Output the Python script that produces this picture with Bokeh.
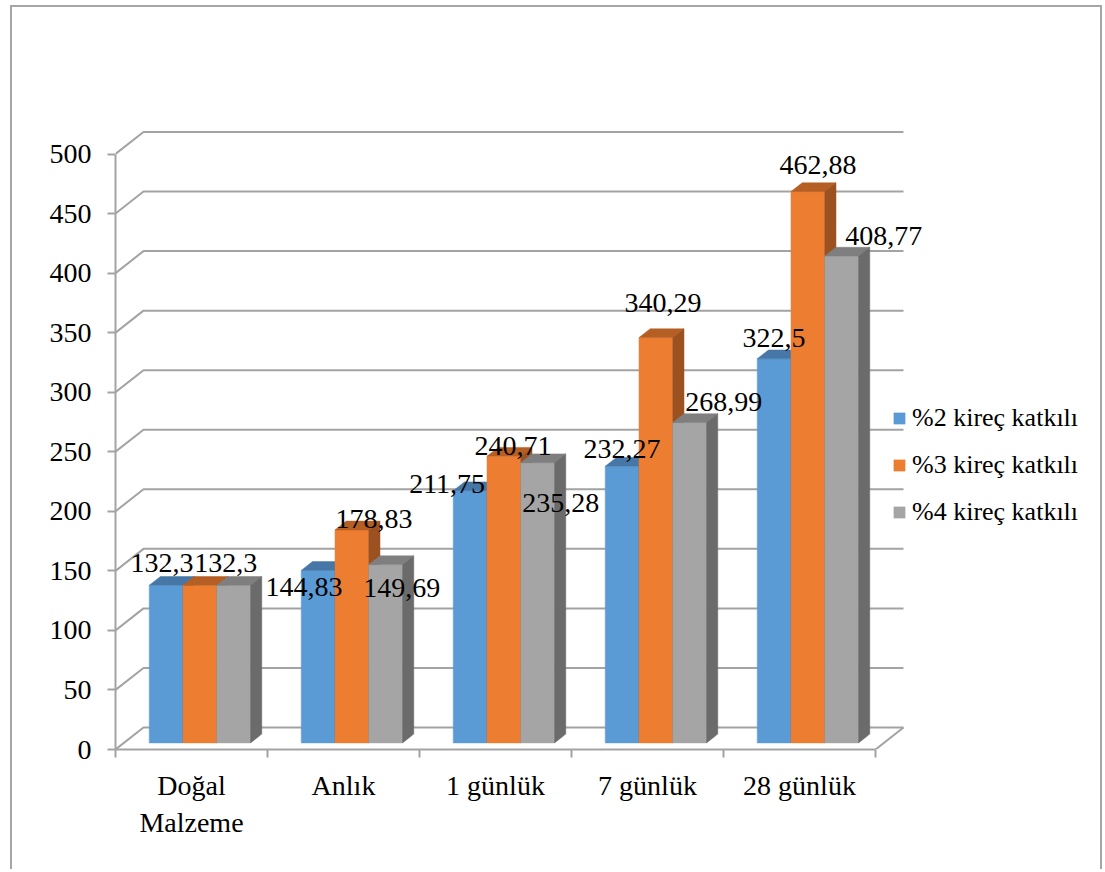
from bokeh.plotting import figure
from bokeh.models import Range1d, LinearAxis, FixedTicker, Legend, LegendItem, ColumnDataSource
from bokeh.core.properties import value
from bokeh.embed import file_html
from bokeh.resources import INLINE

# ---- data -------------------------------------------------------------
categories = ["Doğal\nMalzeme", "Anlık", "1 günlük", "7 günlük", "28 günlük"]
series_names = ["%2 kireç katkılı", "%3 kireç katkılı", "%4 kireç katkılı"]
lime_2 = [132.3, 144.83, 211.75, 232.27, 322.5]
lime_3 = [132.3, 178.83, 240.71, 340.29, 462.88]
lime_4 = [132.3, 149.69, 235.28, 268.99, 408.77]
value_ticks = [0, 50, 100, 150, 200, 250, 300, 350, 400, 450, 500]

# ---- styling / layout ---------------------------------------------------
front_colors = ["#5b9bd5", "#ed7d31", "#a5a5a5"]
top_colors = ["#4677a6", "#b55f24", "#7f7f7f"]
side_colors = ["#3f6a94", "#9c5120", "#6b6b6b"]
GRID_COLOR = "#a3a3a3"
FONT = "Liberation Serif"

# label nudges in screen pixels (dx right, dy down) from the bar's top-front centre;
# None = label hidden behind its neighbours
label_nudge = [
    [(-4, -22), None, (-8, -22)],
    [(-14, 17), (22, -11), (16, 23)],
    [(-23, -7), (9, -10), (23, 40)],
    [(0, -17), (7, -35), (34, -21)],
    [(0, -21), (10, -27), (42, -20)],
]

W, H = 1092, 864
OX, OY = 12, 7              # canvas origin on the page
AXIS_X, AXIS_Y = 115, 749   # page position of the value axis / category axis
CAT_PX = 152.0              # pixels per category
VAL_PX = 1.191              # pixels per value unit
DEPTH_PX = (28.0, 22.0)     # oblique depth of the floor / back wall
BAR_FRONT, BAR_BACK = 0.3, 0.7
GAP = 1.5                   # gap between groups, in bar widths

mb_left = AXIS_X - OX
mb_bottom = OY + H - AXIS_Y
mb_top = 5
mb_right = 6
frame_w = W - mb_left - mb_right
frame_h = H - mb_top - mb_bottom

p = figure(width=W, height=H, output_backend="svg", toolbar_location=None,
           x_range=Range1d(0, frame_w / CAT_PX), y_range=Range1d(0, frame_h / VAL_PX),
           x_axis_type=None, y_axis_type=None,
           min_border_left=mb_left, min_border_right=mb_right,
           min_border_top=mb_top, min_border_bottom=mb_bottom,
           outline_line_color=None, background_fill_color="white",
           border_fill_color="white", margin=(5, 0, 0, 10),
           styles={"border-top": "2px solid #a6a6a6",
                   "border-left": "2px solid #a6a6a6",
                   "border-right": "2px solid #a6a6a6"})
p.xgrid.visible = False
p.ygrid.visible = False

# depth vector in data units
dX = DEPTH_PX[0] / CAT_PX
dY = DEPTH_PX[1] / VAL_PX
n_cat = len(categories)

# ---- back wall gridlines and floor --------------------------------------
gx, gy = [], []
for v in value_ticks:
    gx.append([0, dX, n_cat + dX])
    gy.append([v, v + dY, v + dY])
gx.append([n_cat, n_cat + dX])
gy.append([0, dY])
p.multi_line(gx, gy, line_color=GRID_COLOR, line_width=2)

# ---- axes ---------------------------------------------------------------
yaxis = LinearAxis(ticker=FixedTicker(ticks=value_ticks), bounds=(0, 500),
                   axis_line_color=GRID_COLOR, axis_line_width=2,
                   major_tick_line_color=GRID_COLOR, major_tick_line_width=2,
                   major_tick_out=8, major_tick_in=0,
                   minor_tick_line_color=None,
                   major_label_text_font=FONT, major_label_text_font_size="28px",
                   major_label_text_color="black", major_label_standoff=16)
p.add_layout(yaxis, "left")

centers = [i + 0.5 for i in range(n_cat)]
xaxis = LinearAxis(ticker=FixedTicker(ticks=centers, minor_ticks=list(range(n_cat + 1))),
                   bounds=(0, n_cat),
                   axis_line_color=GRID_COLOR, axis_line_width=2,
                   major_tick_line_color=None, major_tick_out=0, major_tick_in=0,
                   minor_tick_line_color=GRID_COLOR, minor_tick_line_width=2,
                   minor_tick_out=8, minor_tick_in=0,
                   major_label_overrides={c: name for c, name in zip(centers, categories)},
                   major_label_text_font=FONT, major_label_text_font_size="28px",
                   major_label_text_color="black", major_label_standoff=12)
p.add_layout(xaxis, "below")

# ---- 3D columns ---------------------------------------------------------
bar_w = 1.0 / (3 + GAP)
f_dx, f_dy = BAR_FRONT * dX, BAR_FRONT * dY
b_dx, b_dy = (BAR_BACK - BAR_FRONT) * dX, (BAR_BACK - BAR_FRONT) * dY

legend_items = []
label_x, label_y, label_txt, label_xo, label_yo = [], [], [], [], []
for j, vals in enumerate([lime_2, lime_3, lime_4]):
    lefts = [i + f_dx + GAP / 2 * bar_w + j * bar_w for i in range(n_cat)]
    rights = [l + bar_w for l in lefts]
    bottoms = [f_dy] * n_cat
    tops = [v + f_dy for v in vals]
    src = ColumnDataSource(dict(left=lefts, right=rights, bottom=bottoms, top=tops))
    front = p.quad(left="left", right="right", bottom="bottom", top="top", source=src,
                   fill_color=front_colors[j], line_color=front_colors[j], line_width=0.5)
    top_xs = [[l, r, r + b_dx, l + b_dx] for l, r in zip(lefts, rights)]
    top_ys = [[t, t, t + b_dy, t + b_dy] for t in tops]
    p.patches(top_xs, top_ys, fill_color=top_colors[j], line_color=top_colors[j], line_width=0.5)
    side_xs = [[r, r + b_dx, r + b_dx, r] for r in rights]
    side_ys = [[b, b + b_dy, t + b_dy, t] for b, t in zip(bottoms, tops)]
    p.patches(side_xs, side_ys, fill_color=side_colors[j], line_color=side_colors[j], line_width=0.5)
    legend_items.append(LegendItem(label=series_names[j], renderers=[front]))
    for i, v in enumerate(vals):
        nudge = label_nudge[i][j]
        if nudge is None:
            continue
        label_x.append((lefts[i] + rights[i]) / 2)
        label_y.append(tops[i])
        label_txt.append(f"{v:g}".replace(".", ","))
        label_xo.append(nudge[0])
        label_yo.append(nudge[1])

p.text(x=label_x, y=label_y, text=label_txt, x_offset=label_xo, y_offset=label_yo,
       text_font=value(FONT), text_font_size="28px", text_color="black",
       text_align="center", text_baseline="middle")

# ---- legend -------------------------------------------------------------
legend = Legend(items=legend_items, location=(777, 222),
                glyph_width=14, glyph_height=14, label_standoff=6, spacing=17,
                padding=0, margin=0, border_line_color=None, background_fill_alpha=0,
                label_text_font=FONT, label_text_font_size="26px", label_text_color="black")
p.add_layout(legend)

open("out.html", "w").write(file_html(p, INLINE))
